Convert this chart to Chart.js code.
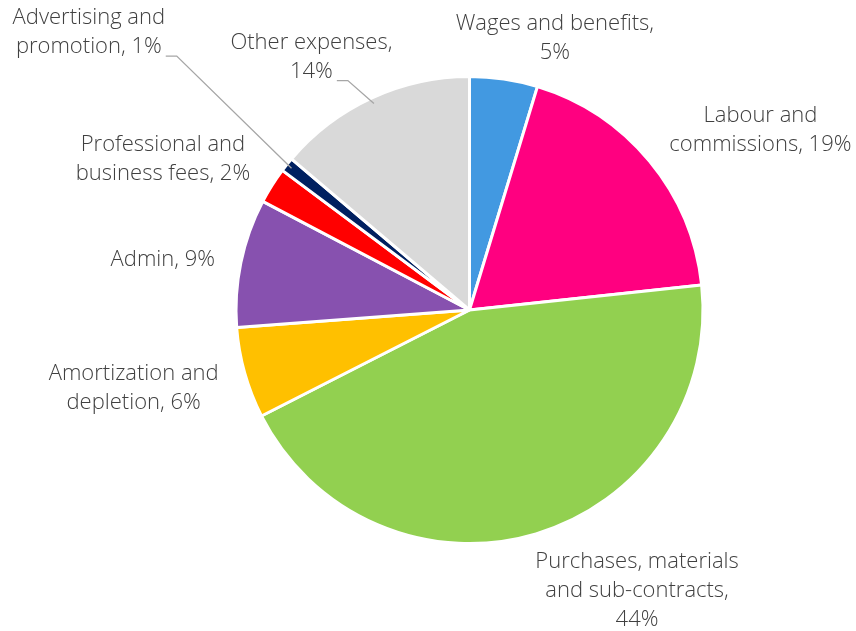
<!DOCTYPE html>
<html>
<head>
<meta charset="utf-8">
<script src="https://cdn.jsdelivr.net/npm/chart.js@4"></script>
<style>
  html, body { margin: 0; padding: 0; background: #fff; }
  #wrap { position: relative; width: 856px; height: 631px; }
</style>
</head>
<body>
<div id="wrap"><canvas id="pie" width="856" height="631"></canvas></div>
<script>
// categories, in clockwise order from 12 o'clock
const categories = [
  ["Wages and benefits,"],
  ["Labour and", "commissions,"],
  ["Purchases, materials", "and sub-contracts,"],
  ["Amortization and", "depletion,"],
  ["Admin,"],
  ["Professional and", "business fees,"],
  ["Advertising and", "promotion,"],
  ["Other expenses,"]
];
const shares = [4.7, 18.6, 44.2, 6.3, 8.9, 2.5, 1.0, 13.8];
const pctLabels = ["5%", "19%", "44%", "6%", "9%", "2%", "1%", "14%"];
const colors = ["#4299E1", "#FF0080", "#92D050", "#FFC000", "#8751AF", "#FF0000", "#002060", "#D9D9D9"];

// label placement: nudge from the slice's outer edge midpoint, and whether the % goes on the last line
const labelNudge = [[51, -41], [111, -31], [101, 57], [-111, 15], [-78, -3], [-109, -26], [-198, -132], [-60, -41]];
const pctInline = [false, true, false, true, true, true, true, false];
const withLeader = [false, false, false, false, false, false, true, true];

const FONT = '300 22px "Open Sans", "Lato", sans-serif';
const LINE_H = 29;

const labelPlugin = {
  id: 'outsideLabels',
  afterDraw(chart) {
    const ctx = chart.ctx;
    const meta = chart.getDatasetMeta(0);
    ctx.save();
    ctx.font = FONT;
    ctx.fillStyle = '#404040';
    ctx.textAlign = 'center';
    ctx.textBaseline = 'middle';
    meta.data.forEach((arc, i) => {
      const p = arc.getProps(['x', 'y', 'startAngle', 'endAngle', 'outerRadius'], true);
      const mid = (p.startAngle + p.endAngle) / 2;
      const ex = p.x + Math.cos(mid) * p.outerRadius;
      const ey = p.y + Math.sin(mid) * p.outerRadius;
      const lines = categories[i].slice();
      if (pctInline[i]) lines[lines.length - 1] += ' ' + pctLabels[i];
      else lines.push(pctLabels[i]);
      const cx = ex + labelNudge[i][0];
      const cy = ey + labelNudge[i][1];
      const top = cy - (lines.length - 1) * LINE_H / 2;
      lines.forEach((t, k) => ctx.fillText(t, cx, top + k * LINE_H));

      if (withLeader[i]) {
        const last = lines[lines.length - 1];
        const w = ctx.measureText(last).width;
        const lx = cx + w / 2 + 4;
        const ly = top + (lines.length - 1) * LINE_H + 9;
        // point just inside the slice edge
        const ax = p.x + Math.cos(mid) * (p.outerRadius - 6);
        const ay = p.y + Math.sin(mid) * (p.outerRadius - 6);
        ctx.strokeStyle = '#A6A6A6';
        ctx.lineWidth = 1.3;
        ctx.beginPath();
        ctx.moveTo(lx, ly);
        ctx.lineTo(lx + 11, ly);
        ctx.lineTo(ax, ay);
        ctx.stroke();
      }
    });
    ctx.restore();
  }
};

new Chart(document.getElementById('pie'), {
  type: 'pie',
  data: {
    labels: categories.map(c => c.join(' ')),
    datasets: [{
      data: shares,
      backgroundColor: colors,
      borderColor: '#FFFFFF',
      borderWidth: 3
    }]
  },
  options: {
    responsive: false,
    animation: false,
    layout: { padding: { top: 75, bottom: 86, left: 234, right: 151 } },
    plugins: {
      legend: { display: false },
      tooltip: { enabled: false }
    }
  },
  plugins: [labelPlugin]
});
</script>
</body>
</html>
